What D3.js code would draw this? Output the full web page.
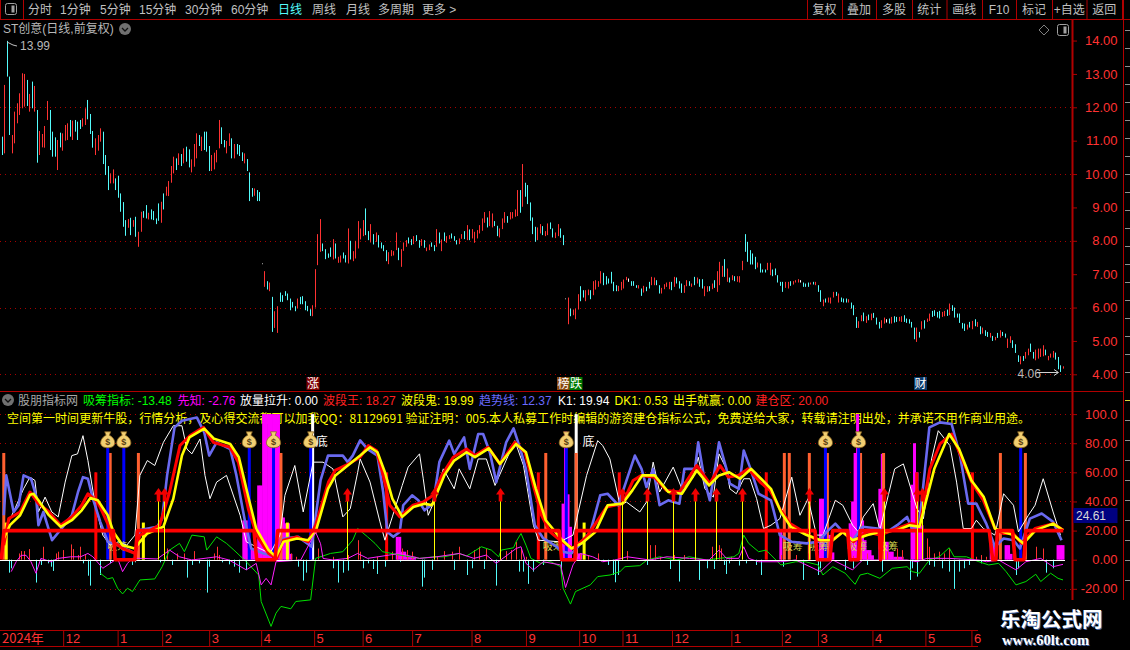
<!DOCTYPE html>
<html>
<head>
<meta charset="utf-8">
<script src="https://cdn.jsdelivr.net/npm/d3@7"></script>
<style>
  html, body { margin: 0; padding: 0; background: #000; overflow: hidden; }
  svg { display: block; }
  text { font-family: "Liberation Sans", "Noto Sans CJK SC", sans-serif; }
</style>
</head>
<body>
<div id="chart"></div>
<script>
////Top toolbar and header texts
const navLeft = ['分时', '1分钟', '5分钟', '15分钟', '30分钟', '60分钟', '日线', '周线', '月线', '多周期', '更多 >'];
const navRight = ['复权', '叠加', '多股', '统计', '画线', 'F10', '标记', '+自选', '返回'];
const indicatorHead = [
  ['吸筹指标: -13.48', '#00ff00'], ['先知: -2.76', '#ff00ff'], ['放量拉升: 0.00', '#ffffff'],
  ['波段王: 18.27', '#ff2020'], ['波段鬼: 19.99', '#ffff00'], ['趋势线: 12.37', '#6a6aff'],
  ['K1: 19.94', '#ffffff'], ['DK1: 0.53', '#ffff00'], ['出手就赢: 0.00', '#ffff00'], ['建仓区: 20.00', '#ff2020']
];
const noteText = '空间第一时间更新牛股\uFF0C行情分析\uFF0C及心得交流都可以加我QQ\uFF1A81129691 验证注明\uFF1A005.本人私募工作时编辑的游资建仓指标公式\uFF0C免费送给大家\uFF0C转载请注明出处\uFF0C并承诺不用作商业用途\u3002';

////Axis ticks
const priceTicks = [14, 13, 12, 11, 10, 9, 8, 7, 6, 5, 4];
const priceGrid = [12, 10, 8, 6, 4];
const lowerTicks = [100, 80, 60, 40, 20, 0, -20];
const lowerTickText = ['100.0', '80.00', '60.00', '40.00', '20.00', '0.00', '-20.00'];
const monthIdx = [25, 47, 65, 84, 105, 126.4, 146, 166, 190, 212, 233.5, 251, 271, 295, 315.4, 330, 352, 373.4, 392];
const monthText = ['12', '1', '2', '3', '4', '5', '6', '7', '8', '9', '10', '11', '12', '1', '2', '3', '4', '5', '6'];

////Candles: colour, high, low
const candleColor = [
  'crccrrrrrr','crcrcrrrrc','ccrcrrrcrc','ccrrcccrrr','cccrrccccc',
  'rcrcrrccrc','cccrcrrrr','crcrccrrrc','rcccrrrrcc','rrcrcccrcc',
  'crccwrcrcr','rcccccccrc','ccccrrrrcc','cc',
  'rcrrccrcrr','rrrccrcrcc','ccrrrrcrrr','ccrccrcrrc','crcrcrrccc',
  'rrcrcrrrrr','rcrrccrrrc','rrrrcrcccc','crrcrrccrr','cc',
  'wrcrrrccrr','crrrrccccc','crrrrwcccr','crccrrccrr','rrcrcccrrc',
  'rcrccrrcrc','rrrcrcrcrr','rcccccrccc','rrcccccrrc','rrrwcccrcr',
  'ccrcrrrcrc','ccrcccrrcr','crcccrrwcr','ccrrcccccr','crcrrccccr',
  'rcrccccccr','crcrcrccrc','rcrccrrccc','rcrrccrrrr','crrrcccr'
].join('');
const priceHigh = [
  11.12,12.67,13.99,12.92,11.17,11.87,12.12,12.42,13.02,13.00,
  12.82,12.40,12.77,12.64,11.92,11.29,11.20,11.44,12.19,11.92,
  11.27,11.10,11.02,11.24,11.22,11.47,11.52,11.62,11.60,11.62,
  11.57,11.62,11.67,11.97,12.22,11.80,11.29,11.07,11.17,11.37,
  11.27,10.57,10.24,10.02,10.14,9.87,9.95,9.42,9.16,8.62,
  8.65,8.69,8.62,8.72,8.27,8.87,8.89,9.07,8.84,8.94,
  8.89,8.67,9.12,9.17,9.42,9.62,9.79,10.24,10.52,
  10.47,10.62,10.60,10.77,10.82,10.74,10.44,10.90,11.22,11.17,
  11.12,11.27,11.27,10.84,10.57,10.64,10.72,11.62,11.40,11.02,
  10.99,11.22,11.07,10.90,10.90,10.87,10.65,10.62,10.45,10.05,
  9.58,9.57,9.52,9.46,7.32,7.09,6.79,6.75,6.32,5.89,
  6.04,6.45,6.37,6.49,6.42,6.27,6.17,6.04,6.27,6.32,
  6.34,6.19,6.05,5.95,6.07,7.15,8.20,8.65,7.92,7.75,
  7.62,7.80,
  8.05,7.92,7.52,7.56,7.65,7.57,8.37,8.00,7.69,8.00,
  8.59,8.37,8.62,8.97,8.29,8.50,8.20,8.25,8.17,7.95,
  7.87,7.72,7.66,7.72,7.69,8.25,7.79,7.75,7.95,8.02,
  8.10,8.05,8.14,8.17,8.02,8.05,8.02,7.80,7.89,7.95,
  7.87,8.35,8.25,8.04,8.25,8.14,8.17,8.22,8.14,8.02,
  8.07,8.20,8.29,8.47,8.34,8.35,8.27,8.32,8.47,8.67,
  8.86,8.70,8.89,8.82,8.59,8.45,8.37,8.67,8.86,8.74,
  8.86,8.86,8.94,9.52,9.52,10.30,9.74,9.67,9.15,8.70,
  8.42,8.40,8.50,8.44,8.29,8.52,8.55,8.37,8.25,8.50,
  8.37,8.17,
  6.27,6.30,5.97,5.94,5.97,6.40,6.64,6.52,6.52,6.54,
  6.52,6.79,6.82,6.79,7.09,7.04,6.94,6.87,7.07,6.77,
  6.67,6.65,6.77,6.84,6.92,6.87,6.79,6.79,6.67,6.67,
  6.57,6.65,6.62,6.77,6.92,6.90,6.82,6.67,6.59,6.70,
  6.75,6.77,6.77,6.92,6.90,6.79,6.72,6.67,6.82,6.79,
  6.72,6.92,6.90,6.85,6.85,6.64,6.64,6.64,6.72,6.82,
  7.09,7.37,7.25,7.45,7.17,6.90,6.97,6.94,6.94,6.94,
  7.40,8.20,7.97,7.72,7.62,7.52,7.35,7.32,7.14,7.14,
  7.34,7.34,7.14,7.17,6.97,6.77,6.77,6.77,6.77,6.79,
  6.79,6.82,6.85,6.82,6.75,6.72,6.75,6.75,6.77,6.77,
  6.67,6.52,6.24,6.27,6.30,6.30,6.47,6.47,6.42,6.30,
  6.27,6.27,6.25,6.15,6.07,5.72,5.59,5.77,5.85,5.74,
  5.79,5.82,5.84,5.70,5.57,5.62,5.70,5.65,5.67,5.72,
  5.74,5.72,5.72,5.74,5.77,5.67,5.65,5.57,5.40,5.40,
  5.27,5.59,5.62,5.67,5.82,5.90,5.92,5.87,5.90,5.87,
  5.90,5.94,6.12,6.07,6.00,5.82,5.82,5.54,5.52,5.49,
  5.57,5.60,5.65,5.57,5.44,5.40,5.32,5.27,5.24,5.15,
  5.12,5.24,5.32,5.27,5.22,5.07,5.14,5.02,4.90,4.57,
  4.54,4.55,4.67,4.77,4.92,4.67,4.74,4.77,4.77,4.87,
  4.74,4.55,4.62,4.70,4.65,4.52,4.27,4.24
];
const priceLow = [
  10.57,10.62,12.92,11.17,10.62,10.92,11.52,11.77,11.97,12.02,
  12.04,11.87,11.97,11.87,10.34,10.57,10.80,10.79,11.62,10.72,
  10.52,10.52,10.12,10.80,10.70,11.00,11.02,11.12,11.02,11.27,
  11.02,11.35,11.42,11.47,11.64,11.20,10.79,10.57,10.70,10.97,
  10.30,9.97,9.52,9.72,9.72,9.52,9.29,8.87,8.42,8.15,
  8.39,8.17,8.42,8.12,7.82,8.27,8.69,8.67,8.64,8.64,
  8.62,8.50,8.60,8.54,8.94,9.35,9.34,9.74,10.02,
  10.12,10.27,10.24,10.32,10.37,10.20,10.05,10.22,10.47,10.84,
  10.69,10.72,10.67,10.09,10.09,10.14,10.35,10.77,10.90,10.80,
  10.62,10.84,10.47,10.47,10.59,10.54,10.39,10.32,10.09,9.19,
  9.32,9.35,9.19,9.19,7.30,6.62,6.54,6.49,5.27,5.39,
  5.24,6.17,6.17,6.35,6.22,5.92,6.00,5.89,5.97,6.10,
  6.10,5.92,5.89,5.75,5.74,6.00,7.27,7.67,7.69,7.45,
  7.49,7.52,
  7.44,7.47,7.34,7.35,7.47,7.35,7.32,7.44,7.39,7.47,
  7.77,8.04,8.14,8.17,8.02,7.95,7.89,7.97,7.80,7.77,
  7.69,7.39,7.30,7.54,7.56,7.72,7.42,7.22,7.70,7.82,
  7.92,7.87,7.90,7.99,7.79,7.85,7.79,7.69,7.72,7.82,
  7.69,7.82,7.92,7.69,7.99,7.94,8.05,8.07,8.00,7.89,
  7.90,8.06,8.05,8.02,8.02,8.07,7.94,8.07,8.22,8.30,
  8.54,8.40,8.44,8.40,8.44,8.14,8.10,8.35,8.54,8.54,
  8.64,8.67,8.72,8.74,8.84,9.02,9.32,9.10,8.60,8.20,
  7.97,8.02,8.22,8.17,8.14,8.17,8.35,8.10,8.08,8.14,
  8.09,7.87,
  6.25,5.50,5.74,5.77,5.65,5.94,6.19,6.30,6.19,6.37,
  6.25,6.37,6.54,6.62,6.72,6.67,6.69,6.72,6.72,6.49,
  6.49,6.49,6.52,6.57,6.82,6.77,6.65,6.65,6.59,6.57,
  6.35,6.45,6.49,6.57,6.67,6.67,6.67,6.42,6.42,6.55,
  6.62,6.55,6.52,6.62,6.72,6.57,6.44,6.44,6.64,6.65,
  6.62,6.67,6.72,6.62,6.57,6.34,6.47,6.49,6.55,6.59,
  6.47,6.67,6.92,6.92,6.77,6.75,6.82,6.79,6.77,6.75,
  7.12,7.67,7.37,7.29,7.29,7.15,7.20,7.05,7.05,7.05,
  7.12,6.97,6.94,6.97,6.75,6.65,6.47,6.59,6.57,6.65,
  6.69,6.75,6.75,6.75,6.62,6.62,6.62,6.69,6.69,6.67,
  6.47,6.17,6.04,6.15,6.15,6.12,6.30,6.35,6.15,6.17,
  6.15,6.15,6.15,5.97,5.77,5.39,5.39,5.59,5.59,5.54,
  5.62,5.62,5.69,5.49,5.37,5.39,5.52,5.55,5.52,5.52,
  5.55,5.57,5.59,5.57,5.57,5.54,5.52,5.40,5.05,4.97,
  5.10,5.34,5.37,5.57,5.60,5.72,5.75,5.70,5.67,5.72,
  5.74,5.75,5.77,5.90,5.70,5.70,5.54,5.37,5.30,5.34,
  5.40,5.35,5.44,5.42,5.20,5.22,5.15,5.12,5.10,5.00,
  5.02,5.09,5.10,5.15,5.10,4.79,4.94,4.79,4.64,4.37,
  4.30,4.40,4.47,4.57,4.67,4.47,4.42,4.47,4.52,4.54,
  4.57,4.42,4.50,4.50,4.44,4.15,4.07,4.17
];

////Indicator lines, [bar position, value]
const trendLine = [[1,30.5],[2,57.9],[5,32.8],[7,37.4],[9,57.9],[12,55.6],[14,44.2],[15,23.7],[17,32.8],[20.5,13.4],[24.4,21.4],[28.5,30.5],[31,46.5],[33,56.7],[35,55.6],[37,41.9],[40,26],[43,12.3],[47,10],[51.4,6.6],[54,4.3],[56,20.3],[63,22.6],[65,28.2],[67,57.9],[70,90.9],[73,95.4],[79,97.7],[82,87.5],[84,71.5],[87,80.6],[92.5,76],[95,57.9],[98.5,26],[101,7.7],[106,4.3],[111,2],[114,14.6],[120,15.7],[125.4,8.9],[129,54.4],[132,71.5],[138,71.5],[140,67],[142,71.5],[145,82],
  [148,76],[152,71.5],[154.3,46.5],[156,19.1],[158.4,15.7],[161,19.1],[162.4,37.4],[166,44.2],[168.5,40.8],[171,33.9],[174.5,38.5],[177,67],[181,81.8],[183,72.7],[187,84],[189.3,62.4],[192.7,86.3],[194.7,86.3],[197.4,73.8],[200,53.3],[204,80.6],[207,90.2],[209.5,77.2],[212,62.4],[215.6,23.7],[219,14.6],[220.3,13.4],[224.4,8.9],[227,5.5],[230.4,4.3],[232.4,7.7],[238,19.1],[242,44.2],[245,45.3],[249.3,37.4],[253.3,57.9],[256,71.5],[258.7,62.4],[260.7,49.9],[263.4,62.4],[266,37.4],[269.5,40.8],[274,38.5],[276,62.4],[280.3,62.4],[281.6,80.6],[284.3,53.3],[286.3,40.8],[289,69.2],
  [290,80.6],[293,62.4],[294.4,52.2],[298,48.7],[300,75],[302.5,63.6],[306,45.3],[311,40.8],[314.6,16.9],[319.4,12.3],[325.4,11.2],[330,12.3],[333.5,19.1],[337,24.8],[340,19.1],[344,13.4],[348,22.6],[354,21.4],[358,19.1],[362,23.7],[366,29.4],[368.5,19.1],[371,26],[375,90.9],[379.3,94.3],[384,93.2],[387.4,71.5],[390.7,38.5],[394,38.5],[398,24.8],[401.5,8.9],[405,14.6],[409,13.4],[411.6,7.7],[415.6,28.2],[420.4,31.7],[425,26],[428.4,13.4]];
const kLine = [[3,26],[5.5,35],[9,48.7],[11.6,56.7],[13.6,54.4],[15,32.8],[17.7,43],[20.4,32.8],[23,29.4],[25.8,53.3],[28.5,71.5],[30.8,72.7],[33,85.2],[35,68.1],[38,37.4],[41,16.9],[44,10],[47.3,12.3],[50.7,10],[54,16.9],[56,57.9],[59,68.1],[62,64.7],[65.5,80.6],[69.5,92],[73,92],[75,76],[77,72.7],[80.3,82.9],[82.3,57.9],[84.3,41.9],[87,53.3],[91,57.9],[96.5,30.5],[99,12.3],[103,8.9],[108.6,4.3],[112.6,16.9],[114.6,44.2],[118.6,64.7],[122,32.8],[126,67],[130,67],[134,62.4],[138,29.4],[141,35],[144,60],
  [145,69.2],[149,53.3],[153,26],[155,13.4],[158,29.4],[162,51],[164.4,63.6],[169,72.7],[170.5,55.6],[172.5,30.5],[174.5,38.5],[178.6,62.4],[183,48.7],[185,62.4],[189.3,48.7],[192.7,69.2],[196,69.2],[199.5,51],[207.5,81.8],[211,64.7],[215,23.7],[217,13.4],[225.7,12.3],[231,16.9],[236.5,57.9],[241,81.8],[243,78.4],[245.9,69.2],[250,37.4],[252.6,39.6],[258,32.8],[260.7,39.6],[263.4,67],[266,46.5],[271.5,63.6],[275,48.7],[279.6,56.7],[281.6,70.4],[284.3,48.7],[287.7,43],[290,72.7],
  [293,62.4],[294.4,48.7],[297,45.3],[300,55.6],[302.5,55.6],[305.2,41.9],[308,21.4],[311,23.7],[314.6,28.2],[319.4,56.7],[322.7,30.5],[326,41.9],[329.4,16.9],[332,16.9],[337,40.8],[340,37.4],[344,23.7],[346.3,19.1],[348.3,29.4],[352.3,38.5],[355,20.3],[358.4,44.2],[361,62.4],[364.5,65.8],[370,35],[372.6,28.2],[375.9,69.2],[378.6,88.6],[383.3,78.4],[386,53.3],[388.7,21.4],[392,21.4],[394,27.1],[396.8,21.4],[401.5,16.9],[405,45.3],[409,37.4],[411,19.1],[415,30.5],[417.7,37.4],[421,55.6],[425,32.8],[428,16.9]];
const redLine = [[1,10],[3,28.2],[7.6,32.8],[11.6,46.5],[15,38.5],[19,33.3],[24,23.7],[28.5,29.4],[32.5,37.4],[35,45.3],[39,39.6],[43,24.8],[45.3,12.3],[49,7.7],[54,4.3],[56,16.9],[59,19.1],[64,23.7],[68,46.5],[72.2,78.4],[76.3,85.2],[81.7,90.9],[85.7,80.6],[92.4,77.2],[95.8,67],[99.8,35],[103.2,16.9],[108,4.3],[111.3,0.9],[114,13.4],[119.4,15.7],[124,12.3],[127,23.7],[132.2,53.3],[134.9,61.3],[139.6,65.1],[145,70.4],
  [148.3,78.4],[151.6,75],[154.3,57.9],[157,37.4],[161,29.4],[166.4,37.4],[170.5,39.6],[174.5,44.2],[178,57.9],[182.6,70.4],[188,76],[191.4,71.5],[196.7,77.2],[201.5,65.8],[207.5,80.6],[211.6,73.8],[215,51],[218.3,30.5],[221.7,19.1],[225.7,13.4],[231,7.7],[236.5,15.7],[244.6,36.2],[251,38.5],[255.3,54.4],[258.7,57.9],[264,56.7],[268.8,47.6],[274,46.5],[281,64.7],[286.3,52.2],[290.4,64.7],
  [293.8,56.7],[297.8,57.9],[301.8,62.4],[306.6,53.3],[310.6,47.6],[314.6,35],[318.7,24.8],[325.4,18],[329.5,13.4],[335.5,13.4],[340.2,19.1],[344.3,12.3],[349.7,19.1],[355,16.9],[361.8,21.4],[367.2,24.8],[371.2,23.7],[375.2,62.4],[379.3,79.5],[384,86.3],[387.4,72.7],[392.1,53.3],[396.8,40.8],[401.5,21.4],[404.9,18],[408.9,18],[412.3,11.2],[417.7,21.4],[425,24.8],[429.1,20.3]];
const yellowLine = [[1,14.6],[3.5,23.7],[7.6,30.5],[11.6,44.6],[13,45.3],[15,40.8],[19,31],[24,22.6],[28.5,27.1],[32.5,33.9],[36,42.4],[39,40.8],[43,30.5],[45.3,19.1],[49,10],[54,7.7],[56,12.3],[59,18],[65.5,22.6],[69.5,41.9],[73,71.5],[76,84],[82,90],[86,83],[92.5,79.5],[96,70.4],[100,41.9],[103,21.4],[108,6.6],[111,2],[114,12.3],[119.5,14.6],[124,13.4],[127,19.1],[132,48.7],[135,57.9],[140,64.7],[145,71.5],
  [149,77.2],[152,73.8],[155,60.1],[158,41.9],[162,29.4],[166.5,36.2],[171,38.5],[174,37.4],[179,57.9],[183,68.1],[188,73.8],[191.4,70.4],[197,76.5],[201.5,65.8],[208,79.5],[212,73.8],[216,48.7],[220,27.1],[226,14.6],[230.4,7.7],[234.5,11.2],[240,19.1],[245,37.4],[251,38.5],[255,47.6],[259,57.9],[264,57.9],[269.5,46.5],[275,45.3],[281,61.3],[286,51],[290,57.9],
  [294,60.1],[298.5,55.6],[303,62.4],[307,55.6],[311,48.7],[315,32.8],[319,22.6],[325.4,16.9],[331,13.4],[336,13.4],[340,19.1],[344,13.4],[350,16.9],[355,19.1],[362,20.3],[367,23.7],[371,22.6],[377,62.4],[383,86.3],[387,76],[392,54.4],[397,43],[401.5,21.4],[405,19.1],[409,16.9],[413,11.2],[418,20.3],[425,24.8],[429,20.3]];
const greenLine = [[40,-9.3],[43,-13.2],[45,-12.3],[47,-19.6],[49,-23.5],[51,-19.6],[53,-21.9],[56,-13.9],[62,-13.2],[65,-4.8],[68,6.6],[72,11.2],[74,5.5],[77,16.9],[82,15.7],[83,6.6],[87,15.7],[91,11.2],[94,6.6],[99,-1.4],[104,-10.5],[105,-28.7],[109,-45.8],[111,-36.7],[113,-32.1],[117,-33.7],[119,-28.7],[125,-27.6],[127,0.9],[133,4.3],[138,5.5],[142,13.4],[144,21.4],
  [148,15.7],[151,11.2],[154,5.5],[161,3.2],[169,0.9],[175,2],[179,2],[185,4.3],[188,2.5],[194,8.9],[198,6.6],[201,2],[202,6.6],[207,8.2],[208,12.3],[210,18],[212,10],[214,0.9],[218,-2.5],[222,-1.4],[226,-4.8],[227,-19.6],[230,-30.5],[232,-21.9],[238,-17.3],[241,-11.6],[246,-10.5],[250,-8.2],[252,-4.8],[258,-4.1],[261,-0.2],[266,2],[273,-0.2],[278,2],[285,-0.2],[290,0.9],
  [296,2],[298,4.3],[300,16.9],[302,11.2],[306,5.5],[309,6.6],[315,-3.6],[321,-1.4],[325,-1.4],[330,-3.6],[332,-10.5],[336,-4.8],[341,-9.3],[345,-16.9],[347,-10.5],[350,-9.3],[355,-12.8],[360,-5.9],[366,-4.8],[368,-8.2],[371,-9.3],[375,-0.2],[379,2],[383,8.2],[385,2],[390,2],[395,-1.4],[399,-3.6],[403,-2.5],[406,-8.2],[410,-17.3],[414,-15],[418,-10],[420,-15],[424,-9.3],[427,-12.8],[429,-13.9]];
const pinkLine = [[4,-8.2],[6,-1.4],[8,3],[10,3],[12,-1.4],[14,-9.3],[16,0.9],[20,-1.4],[23,0.9],[28,2],[32,2],[35,4.3],[37,2],[41,-5.9],[44,-2.5],[47,0.9],[49,-8.2],[51,-2.5],[53,0.9],[57,0.9],[63,0.5],[68,6.6],[72,2],[77,-0.2],[87,2],[92,-0.2],[99,-7],[103,-2.5],[105,-17.3],[107,-12.8],[109,-17.3],[111,-1.4],[121,-0.2],[127,19],[129,11],[130,0.9],[134,-0.2],[140,0.9],[144,4.3],
  [148,0.9],[161,4.3],[169,0.9],[176,2],[185,4.3],[191,0.9],[196,3.2],[200,-2.5],[208,7.7],[210,8.9],[212,-2.5],[215,-7],[219,-1.4],[226,-3.6],[228,-19.1],[231,-3.6],[234,4.3],[239,2],[243,-1.4],[248,-0.2],[253,2],[262,-0.2],[269,2],[278,0.9],[286,-0.2],
  [290,6.6],[293,0.9],[298,0.9],[300,8.9],[302,0.9],[306,-1.4],[315,-1.4],[321,-0.2],[331,-8.2],[336,-0.2],[344,-7],[348,-0.2],[358,-0.2],[366,-0.2],[370,-1.4],[374,0.9],[383,0.9],[395,-0.2],[398,-1.4],[403,-0.2],[410,-7],[414,-1.4],[420,0.9],[425,-4.8],[429,-3.2]];
const stepLine = [[0,0],[1.1,20],[45.3,20],[46,0],[54,0],[55,20],[102.1,20],[103.2,0],[110.6,0],[111.7,20],[225.4,20],[226.4,0],[231.8,0],[232.4,20],[328.8,20],[329.7,0],[334.8,0],[335.9,20],[342,20],[342.9,0],[346.3,0],[347,20],[354.8,20],[355.3,0],[356,20],[399.2,20],[400.6,0],[401.9,0],[402.5,20],[408.6,20],[409.6,0],[413.2,0],[414,20],[429.1,20]];

////Small up and down stems around zero
const redStemIdx = [7,8,9,11,17,22,23,25,28,29,31,32,34,38,67,71,74,78,86,87,88,115,117,119,128,134,140,144,145,152,156,158,160,162,164,166,176,179,182,185,191,193,196,204,206,208,210,212,234,237,241,251,253,262,264,266,272,276,287,290,291,295,315,321,326,344,350,358,362,364,374,375,377,379,381,383,394,396,398,418,421];
const redStemVal = [4.3,5.9,5.9,7.3,8.9,4.3,5.5,6.6,10.5,7.3,3.2,8.9,3.2,2,7.7,4.3,4.3,5.9,4.3,8.9,3.2,4.3,4.3,2,7.7,2,3.2,13.4,5.5,2,5.5,5.5,4.3,7.7,6.6,5.5,2,5.9,5.5,8.9,6.6,8.9,7.7,5.9,6.6,12.3,7.7,2,4.3,3.2,4.3,8.9,5.9,10,10,2,3.2,3.2,8.9,10,7.7,2,3.2,3.2,4.3,2.7,4.3,5.5,7.7,6.6,14.6,8.9,4.3,5.5,4.3,7.7,2,3.2,2,8.9,7.7];
const cyanStemIdx = [3,4,14,16,19,20,21,33,35,36,40,44,53,54,64,69,75,77,80,83,84,89,92,94,96,99,120,122,123,134,136,138,140,146,148,150,152,155,161,170,171,174,183,188,190,195,200,209,211,213,215,219,226,243,245,247,248,249,261,270,274,282,285,288,292,293,294,298,301,305,307,316,324,330,331,341,344,350,356,367,368,370,375,377,380,383,385,387,389,391,396,410,411,422,425];
const cyanStemVal = [-8.9,-5.9,-15.7,-3.6,-2.5,-4.8,-7.7,-2.5,-11,-17.8,-10.5,-2.5,-3.6,-1.8,-1.8,-3.6,-12.3,-3.6,-2.5,-22.6,-4.8,-1.8,-3.2,-4.8,-8.9,-7,-4.8,-14.4,-8.9,-5.9,-15.7,-8.9,-7.5,-5.9,-2.5,-6.4,-9.8,-4.8,-1.4,-18.5,-12.3,-7,-7,-10.5,-5.9,-6.4,-17.8,-8.2,-8.2,-16.6,-8.2,-3.6,-10.5,-1.4,-3.6,-10.5,-15.5,-10.5,-3.6,-6.4,-15,-13.9,-5.9,-6.4,-3.6,-9.8,-2.5,-4,-2.5,-3.6,-10.5,-4.8,-13.9,-10.5,-5.9,-7,-5.9,-3.6,-8.2,-13.9,-5.9,-11.6,-3.6,-4.8,-5.9,-8.2,-20,-8.2,-5.9,-3.6,-2.5,-10.5,-5.9,-8.9,-5.9];

////Signal bars
const pinkBarIdx = [98,99,100,101,102,103,104,105,106,107,108,109,110,111,112,113,114,115,116,117,160,161,162,163,164,165,166,167,227,228,229,230,232,233,234,315,331,332,334,335,336,343,344,345,346,347,348,349,350,351,352,355,356,357,358,359,360,361,362,363,364,368,369,370,371,372,400,401,406,407,408,427,428,429];
const pinkBarVal = [27,27,8,8,8,8,51,51,100,100,100,100,100,100,100,29,29,25,25,4,15.7,15.7,5.5,5.5,2,2,2,2,38.5,88,44.9,22.6,4.3,4.3,4.3,21,41.9,41.9,17,17,5,25,40,73.3,100,27,27,13.4,6.6,6.6,3,48.7,72.7,12.3,12.3,5.5,5.5,2,2,2,2,51.5,80,60,23.7,23.7,11,11,10,10,4,10,10,10];
const orangeBarIdx = [1,44,55.4,113,220,232.3,316.4,318.4,326.5,333.8,347.2,356.5,403.7,413.8];
const orangeBarVal = 73.3;
const blueBarIdx = [43,49.5,100.2,110,125,228.3,333,346.4,411.9];
const blueBarVal = 77.2;
const redBarIdx = [38.2,155.7,217,249.7,309.1,369.9,392.4];
const redBarVal = 60;
const yellowBarIdx = [2,57.4,115.6,235.5];
const yellowBarVal = 25.5;
const whiteBarIdx = [125.8,232.3];
const whiteBarVal = 100;
const arrowIdx = [63.5,65.6,139.7,174.8,201.7,250.9,261,271.5,280.4,288.7,299.2,326.5,356.5,369.9,371.9];
const arrowVal = 49.2;
const fuzzIdx = [46,222,319,329.5,345,357.5];
const bottomWordIdx = [126.3,234];

////Global Variables
const width = 1130;
const height = 650;
const chartRight = 1072;
const darkRed = '#b00000';
const axisRed = '#ff3232';
const cjk = '"Noto Sans CJK SC", sans-serif';

const svg = d3.select('#chart').append('svg')
  .attr('width', width)
  .attr('height', height)
  .style('background', '#000');

const xBar = d3.scaleLinear().domain([0, priceHigh.length - 1]).range([1.5, 1063]);
const xInd = d3.scaleLinear().domain([0, 429]).range([1.3, 1063]);
const yPrice = d3.scaleLinear().domain([4, 14]).range([374.3, 40.55]);
const yInd = d3.scaleLinear().domain([0, 100]).range([559.7, 414.1]);

function snap(v) {
  return Math.round(v) + 0.5;
}

////Dotted grid lines
function dottedGrid(values, scale) {
  svg.append('g').selectAll('line').data(values).enter().append('line')
    .attr('x1', 0).attr('x2', chartRight)
    .attr('y1', d => snap(scale(d))).attr('y2', d => snap(scale(d)))
    .attr('stroke', '#a80000')
    .attr('stroke-dasharray', '1 4');
}
dottedGrid(priceGrid, yPrice);
dottedGrid([100, 80, 60, 40, -20], yInd);

////Candles
function candleKind(i) {
  const c = candleColor[i];
  if (c === 'r') return '#ff3232';
  if (c === 'w') return '#ffffff';
  return '#54fcfc';
}
svg.append('g').selectAll('line').data(priceHigh).enter().append('line')
  .attr('x1', (d, i) => snap(xBar(i)))
  .attr('x2', (d, i) => snap(xBar(i)))
  .attr('y1', d => yPrice(d))
  .attr('y2', (d, i) => yPrice(priceLow[i]))
  .attr('stroke-width', 1)
  .attr('stroke', (d, i) => candleKind(i));

////Yellow note goes under the bars
svg.append('text')
  .attr('x', 7).attr('y', 423)
  .attr('fill', '#ffff00')
  .attr('font-size', 12)
  .attr('textLength', 1023)
  .style('font-family', cjk)
  .text(noteText);

////Bars from zero
function barGroup(idx, val, color, w) {
  svg.append('g').selectAll('rect').data(idx).enter().append('rect')
    .attr('x', d => xInd(d) - w / 2)
    .attr('width', w)
    .attr('y', (d, i) => yInd(Array.isArray(val) ? val[i] : val))
    .attr('height', (d, i) => yInd(0) - yInd(Array.isArray(val) ? val[i] : val))
    .attr('fill', color);
}
barGroup(whiteBarIdx, whiteBarVal, '#ffffff', 3);
barGroup(pinkBarIdx, pinkBarVal, '#ff00ff', 3);
barGroup(orangeBarIdx, orangeBarVal, '#ff6030', 3);

////Stems
function stems(idx, val, color) {
  svg.append('g').selectAll('line').data(idx).enter().append('line')
    .attr('x1', d => snap(xInd(d))).attr('x2', d => snap(xInd(d)))
    .attr('y1', yInd(0))
    .attr('y2', (d, i) => yInd(val[i]))
    .attr('stroke', color);
}
stems(redStemIdx, redStemVal, '#ff3232');
stems(cyanStemIdx, cyanStemVal, '#54fcfc');

barGroup(blueBarIdx, blueBarVal, '#0000ff', 3);
barGroup(yellowBarIdx, yellowBarVal, '#ffff00', 3);
barGroup(redBarIdx, redBarVal, '#ff0000', 3);

////Fuzzy little words
svg.append('g').selectAll('text').data(fuzzIdx).enter().append('text')
  .attr('x', d => xInd(d) - 8)
  .attr('y', yInd(11) + 6)
  .attr('fill', '#d8d850')
  .attr('font-size', 10)
  .style('font-family', cjk)
  .text('吸筹');

////Lines
const lineGen = d3.line().x(d => xInd(d[0])).y(d => yInd(d[1]));
function drawLine(points, color, w) {
  svg.append('path')
    .attr('d', lineGen(points))
    .attr('fill', 'none')
    .attr('stroke', color)
    .attr('stroke-width', w)
    .attr('stroke-linejoin', 'round');
}
drawLine(kLine, '#ffffff', 1);
drawLine(trendLine, '#6a6af0', 2.6);
drawLine(redLine, '#ff0000', 3);
drawLine(yellowLine, '#ffff00', 2.6);
drawLine(greenLine, '#00e000', 1);
drawLine(pinkLine, '#ff20ff', 1);

////Zero line
svg.append('line')
  .attr('x1', 0).attr('x2', 1065)
  .attr('y1', snap(yInd(0))).attr('y2', snap(yInd(0)))
  .attr('stroke', '#ffffff');

drawLine(stepLine, '#ff0000', 3.6);

////Arrows
const arrowG = svg.append('g').selectAll('g').data(arrowIdx).enter().append('g')
  .attr('transform', d => `translate(${snap(xInd(d))},${yInd(arrowVal)})`);
arrowG.append('line')
  .attr('x1', 0).attr('x2', 0)
  .attr('y1', 12).attr('y2', yInd(0) - yInd(arrowVal))
  .attr('stroke', '#ffff00');
arrowG.append('path')
  .attr('d', 'M0,0L4.5,6.5L1.8,6.5L1.8,13.5L-1.8,13.5L-1.8,6.5L-4.5,6.5Z')
  .attr('fill', '#f00000');

////Money bags
const bagTop = yInd(77.2);
const bagG = svg.append('g').selectAll('g').data(blueBarIdx).enter().append('g')
  .attr('transform', d => `translate(${xInd(d)},${bagTop})`);
bagG.append('path')
  .attr('d', 'M-3,-15.5L3,-15.5L1.6,-12C6,-10 7.4,-6 7,-3.5C6.5,-0.5 3,0.5 0,0.5C-3,0.5 -6.5,-0.5 -7,-3.5C-7.4,-6 -6,-10 -1.6,-12Z')
  .attr('fill', '#f2cf72')
  .attr('stroke', '#8a6420')
  .attr('stroke-width', 0.8);
bagG.append('text')
  .attr('text-anchor', 'middle')
  .attr('y', -2.5)
  .attr('font-size', 9)
  .attr('font-weight', 'bold')
  .attr('fill', '#5a4010')
  .text('$');

////The white word next to the bags
svg.append('g').selectAll('text').data(bottomWordIdx).enter().append('text')
  .attr('x', d => xInd(d) + 2)
  .attr('y', 446)
  .attr('fill', '#ffffff')
  .attr('font-size', 12)
  .style('font-family', cjk)
  .text('底');

////Panel lines
function rule(x1, y1, x2, y2, w) {
  svg.append('line')
    .attr('x1', x1).attr('y1', y1).attr('x2', x2).attr('y2', y2)
    .attr('stroke', darkRed)
    .attr('stroke-width', w || 1);
}
rule(0, 19.5, width, 19.5);
rule(0, 391.5, 1123, 391.5);
rule(1123.5, 0, 1123.5, 600);
rule(23.5, 0, 23.5, 19);
rule(0.5, 0, 0.5, 19);

////Price axis and indicator axis
const priceAxis = d3.axisRight(yPrice)
  .tickValues(priceTicks)
  .tickSize(5)
  .tickFormat(d3.format('.2f'));
const indAxis = d3.axisRight(yInd)
  .tickValues(lowerTicks)
  .tickSize(5)
  .tickFormat((d, i) => lowerTickText[i]);

function drawAxis(axis) {
  const g = svg.append('g')
    .attr('transform', `translate(${chartRight},0)`)
    .call(axis);
  g.select('.domain').remove();
  g.selectAll('.tick line').attr('stroke', darkRed);
  g.selectAll('.tick text')
    .attr('x', 45.5)
    .attr('text-anchor', 'end')
    .attr('fill', axisRed)
    .attr('font-size', 13)
    .style('font-family', '"Liberation Sans", sans-serif');
}
drawAxis(priceAxis);
drawAxis(indAxis);
rule(chartRight + 0.5, 19, chartRight + 0.5, 600, 2);

////Value box
svg.append('rect')
  .attr('x', 1073.5).attr('y', 508)
  .attr('width', 44).attr('height', 15)
  .attr('fill', '#000080');
svg.append('text')
  .attr('x', 1076).attr('y', 519.5)
  .attr('fill', '#d8d8d8')
  .attr('font-size', 12)
  .text('24.61');

////Time axis
const timeAxis = d3.axisBottom(xInd)
  .tickValues(monthIdx)
  .tickSize(15)
  .tickFormat((d, i) => monthText[i]);
const timeG = svg.append('g')
  .attr('transform', 'translate(0,631)')
  .call(timeAxis);
timeG.select('.domain').remove();
timeG.selectAll('.tick line').attr('stroke', darkRed);
timeG.selectAll('.tick text')
  .attr('x', 2).attr('y', 11.5).attr('dy', 0)
  .attr('text-anchor', 'start')
  .attr('fill', axisRed)
  .attr('font-size', 13)
  .style('font-family', '"Liberation Sans", sans-serif');
rule(0, 630.5, 978, 630.5);
rule(0, 646.5, 978, 646.5);
svg.append('text')
  .attr('x', 2).attr('y', 642.5)
  .attr('fill', axisRed)
  .attr('font-size', 13)
  .style('font-family', cjk)
  .text('2024年');

////Toolbar
const navLeftX = [28, 60, 100, 139, 185, 231, 278, 312, 346, 378, 422];
svg.append('g').selectAll('text').data(navLeft).enter().append('text')
  .attr('x', (d, i) => navLeftX[i])
  .attr('y', 14)
  .attr('fill', d => d === '日线' ? '#54fcfc' : '#c0c0c0')
  .attr('font-size', 12)
  .text(d => d);

const navRightX = [807, 842, 876, 912, 946.5, 982, 1016, 1052, 1086.5, 1122];
svg.append('g').selectAll('line').data(navRightX).enter().append('line')
  .attr('x1', d => d + 0.5).attr('x2', d => d + 0.5)
  .attr('y1', 0).attr('y2', 19)
  .attr('stroke', darkRed);
svg.append('g').selectAll('text').data(navRight).enter().append('text')
  .attr('x', (d, i) => (navRightX[i] + navRightX[i + 1]) / 2)
  .attr('y', 14)
  .attr('text-anchor', 'middle')
  .attr('fill', '#c0c0c0')
  .attr('font-size', 12)
  .text(d => d);

function squareIcon(x, y) {
  svg.append('rect')
    .attr('x', x - 5.5).attr('y', y - 5.5)
    .attr('width', 11).attr('height', 11).attr('rx', 2)
    .attr('fill', 'none').attr('stroke', '#a0a0a0');
  svg.append('rect')
    .attr('x', x + 0.5).attr('y', y - 3.5)
    .attr('width', 3).attr('height', 7)
    .attr('fill', '#a0a0a0');
}
squareIcon(11, 9);
squareIcon(1063, 30);
svg.append('path')
  .attr('d', 'M1044,25L1049,30L1044,35L1039,30Z')
  .attr('fill', 'none')
  .attr('stroke', '#808080');

function chevron(x, y) {
  svg.append('circle').attr('cx', x).attr('cy', y).attr('r', 6).attr('fill', '#707070');
  svg.append('path')
    .attr('d', `M${x - 3},${y - 1}L${x},${y + 2}L${x + 3},${y - 1}`)
    .attr('fill', 'none').attr('stroke', '#101010').attr('stroke-width', 1.3);
}

////Upper panel labels
svg.append('text')
  .attr('x', 3).attr('y', 33)
  .attr('fill', '#b8b8b8')
  .attr('font-size', 12)
  .text('ST创意(日线,前复权)');
chevron(125, 29);

svg.append('path')
  .attr('d', 'M7,42L10,43.5L13,45L17,46')
  .attr('fill', 'none').attr('stroke', '#c0c0c0');
svg.append('text')
  .attr('x', 20).attr('y', 50)
  .attr('fill', '#b8b8b8')
  .attr('font-size', 12)
  .text('13.99');

svg.append('text')
  .attr('x', 1017.5).attr('y', 378)
  .attr('fill', '#b8b8b8')
  .attr('font-size', 12)
  .text('4.06');
svg.append('path')
  .attr('d', 'M1037,372.5L1058,372.5M1054,369.5L1058.5,372.5L1054,375.5')
  .attr('fill', 'none').attr('stroke', '#d0d0d0');

////Event tags
const tagText = ['涨', '榜', '跌', '财'];
const tagX = [306.5, 557, 569.5, 914];
const tagFill = ['#800000', '#8a4a10', '#007800', '#0a3a6a'];
svg.append('g').selectAll('rect').data(tagText).enter().append('rect')
  .attr('x', (d, i) => tagX[i]).attr('y', 377)
  .attr('width', 13).attr('height', 13)
  .attr('fill', (d, i) => tagFill[i]);
svg.append('g').selectAll('text').data(tagText).enter().append('text')
  .attr('x', (d, i) => tagX[i] + 0.5).attr('y', 388)
  .attr('fill', '#ffffff')
  .attr('font-size', 12)
  .style('font-family', cjk)
  .text(d => d);

////Lower panel header
chevron(8, 400);
svg.append('text')
  .attr('x', 18).attr('y', 404.5)
  .attr('fill', '#a8a8a8')
  .attr('font-size', 12)
  .text('股朋指标网');
const headX = [83, 177.5, 240, 323, 401, 479, 558, 614.5, 673, 755.6];
svg.append('g').selectAll('text').data(indicatorHead).enter().append('text')
  .attr('x', (d, i) => headX[i])
  .attr('y', 404.5)
  .attr('fill', d => d[1])
  .attr('font-size', 12)
  .text(d => d[0]);

////Right side column, only the marks that stay on screen
const sideRows = [30, 48, 66, 84, 102, 120, 138, 156, 174, 192, 210, 228, 246, 264, 282, 300, 318, 336, 354, 372, 400, 420, 440, 460, 480, 500, 520, 540, 560, 580];
svg.append('g').selectAll('line').data(sideRows).enter().append('line')
  .attr('x1', 1125).attr('x2', 1130)
  .attr('y1', d => d + 0.5).attr('y2', d => d + 0.5)
  .attr('stroke', d => d === 400 ? '#d8d840' : '#909090');

////Watermark
function watermark(str, x, y, size, fam) {
  svg.append('text')
    .attr('x', x + 1).attr('y', y + 1)
    .attr('fill', '#4060a0').attr('font-size', size).attr('font-weight', 'bold')
    .style('font-family', fam).text(str);
  svg.append('text')
    .attr('x', x).attr('y', y)
    .attr('fill', '#ffffff').attr('font-size', size).attr('font-weight', 'bold')
    .style('font-family', fam).text(str);
}
watermark('乐淘公式网', 1000, 627, 20.5, cjk);
watermark('www.60lt.com', 1002, 645, 14.5, '"Liberation Serif", serif');
</script>
</body>
</html>
